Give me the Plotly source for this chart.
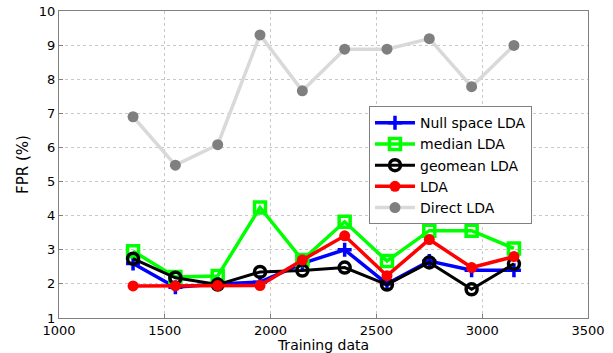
import plotly.graph_objects as go

training = [1350, 1550, 1750, 1950, 2150, 2350, 2550, 2750, 2950, 3150]
null_space = [2.6, 1.9, 2.0, 2.05, 2.6, 3.0, 2.0, 2.67, 2.4, 2.4]
median_lda = [2.96, 2.2, 2.23, 4.24, 2.7, 3.82, 2.67, 3.56, 3.56, 3.04]
geomean_lda = [2.74, 2.18, 1.98, 2.35, 2.39, 2.48, 1.98, 2.63, 1.84, 2.59]
lda = [1.94, 1.94, 1.95, 1.95, 2.7, 3.41, 2.24, 3.3, 2.48, 2.8]
direct_lda = [6.9, 5.48, 6.08, 9.3, 7.66, 8.88, 8.88, 9.19, 7.78, 8.99]

x_ticks = [1000, 1500, 2000, 2500, 3000, 3500]
y_ticks = [1, 2, 3, 4, 5, 6, 7, 8, 9, 10]

FONT = "DejaVu Sans, Liberation Sans, Arial, sans-serif"

fig = go.Figure()
fig.add_trace(go.Scatter(x=training, y=null_space, name="Null space LDA", mode="lines+markers",
                         line=dict(color="#0000ff", width=3.5),
                         marker=dict(symbol="cross-thin", size=10, color="#0000ff",
                                     line=dict(color="#0000ff", width=3.5))))
fig.add_trace(go.Scatter(x=training, y=median_lda, name="median LDA", mode="lines+markers",
                         line=dict(color="#00ff00", width=3.5),
                         marker=dict(symbol="square-open", size=11, color="#00ff00",
                                     line=dict(color="#00ff00", width=3.5))))
fig.add_trace(go.Scatter(x=training, y=geomean_lda, name="geomean LDA", mode="lines+markers",
                         line=dict(color="#000000", width=3),
                         marker=dict(symbol="circle-open", size=11, color="#000000",
                                     line=dict(color="#000000", width=3.5))))
fig.add_trace(go.Scatter(x=training, y=lda, name="LDA", mode="lines+markers",
                         line=dict(color="#ff0000", width=3.5),
                         marker=dict(symbol="circle", size=11, color="#ff0000")))
fig.add_trace(go.Scatter(x=training, y=direct_lda, name="Direct LDA", mode="lines+markers",
                         line=dict(color="#d9d9d9", width=3.5),
                         marker=dict(symbol="circle", size=11, color="#7f7f7f")))

axis_common = dict(showline=True, linecolor="#808080", linewidth=1, mirror=True,
                   ticks="inside", ticklen=4, tickcolor="#808080",
                   showgrid=True, gridcolor="#c8c8c8", griddash="dot", gridwidth=1,
                   zeroline=False, automargin=False, ticklabeloverflow="allow",
                   tickfont=dict(family=FONT, size=13, color="#000000"))

fig.update_layout(
    width=613, height=353,
    margin=dict(l=59, r=25, t=11, b=35),
    paper_bgcolor="white", plot_bgcolor="white",
    font=dict(family=FONT, size=13, color="#000000"),
    xaxis=dict(range=[1000, 3500], tickvals=x_ticks,
               title=dict(text="Training data", font=dict(family=FONT, size=14), standoff=0),
               **axis_common),
    yaxis=dict(range=[1, 10], tickvals=y_ticks,
               title=dict(text="FPR (%)", font=dict(family=FONT, size=15), standoff=6),
               **axis_common),
    legend=dict(x=0.586, y=0.69, xanchor="left", yanchor="top",
                bgcolor="white", bordercolor="#808080", borderwidth=1,
                font=dict(family=FONT, size=14), tracegroupgap=0, itemwidth=40),
    showlegend=True,
)

# remove the page's default body margin so the figure sits at the window's corner
fig.write_html("out.html", config={"displayModeBar": False},
               post_script="document.body.style.margin='0';")
